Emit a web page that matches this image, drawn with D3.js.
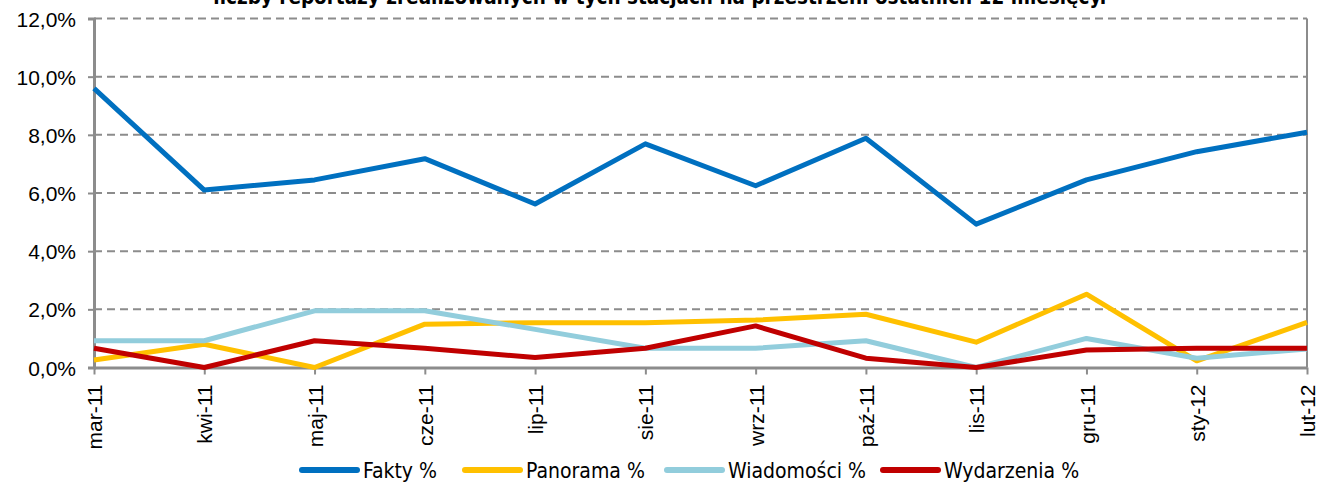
<!DOCTYPE html>
<html>
<head>
<meta charset="utf-8">
<script src="https://cdn.jsdelivr.net/npm/d3@7"></script>
<style>
  body { margin: 0; background: #fff; }
  svg { display: block; font-family: "DejaVu Sans Condensed", "DejaVu Sans", sans-serif; }
</style>
</head>
<body>
<svg id="chart" width="1321" height="483"></svg>
<script>
// data (percent)
const months = ["mar-11", "kwi-11", "maj-11", "cze-11", "lip-11", "sie-11", "wrz-11", "paź-11", "lis-11", "gru-11", "sty-12", "lut-12"];
const fakty = [9.6, 6.1, 6.45, 7.18, 5.62, 7.69, 6.25, 7.88, 4.93, 6.45, 7.42, 8.09];
const panorama = [0.26, 0.8, 0.0, 1.49, 1.54, 1.54, 1.63, 1.83, 0.87, 2.52, 0.23, 1.55];
const wiadomosci = [0.92, 0.92, 1.95, 1.95, 1.31, 0.66, 0.66, 0.92, 0.0, 1.0, 0.32, 0.64];
const wydarzenia = [0.66, 0.0, 0.92, 0.66, 0.34, 0.66, 1.43, 0.32, 0.0, 0.6, 0.66, 0.66];
const yTicks = [0, 2, 4, 6, 8, 10, 12];

const series = [
  { name: "Fakty %", values: fakty, color: "#0070C0" },
  { name: "Panorama %", values: panorama, color: "#FFC000" },
  { name: "Wiadomości %", values: wiadomosci, color: "#92CDDC" },
  { name: "Wydarzenia %", values: wydarzenia, color: "#C00000" }
];

const svg = d3.select("#chart");
const plotLeft = 94, plotRight = 1307, plotTop = 18.5, plotBottom = 367.5;

const x = d3.scalePoint().domain(months).range([plotLeft, plotRight]).padding(0);
const y = d3.scaleLinear().domain([0, 12]).range([plotBottom, plotTop]);

// title, cut off at the top like in the original
svg.append("text")
  .attr("x", 660).attr("y", 4)
  .attr("text-anchor", "middle")
  .style("font-size", "20.5px").style("font-weight", "bold")
  .text("liczby reportaży zrealizowanych w tych stacjach na przestrzeni ostatnich 12 miesięcy.");

// gridlines
svg.append("g").selectAll("line")
  .data(yTicks.filter(d => d > 0))
  .enter().append("line")
  .attr("x1", plotLeft).attr("x2", plotRight)
  .attr("y1", d => y(d)).attr("y2", d => y(d))
  .attr("stroke", "#8c8c8c").attr("stroke-width", 2)
  .attr("stroke-dasharray", "8,5");

// right border of plot area
svg.append("line")
  .attr("x1", plotRight).attr("x2", plotRight).attr("y1", plotTop).attr("y2", plotBottom)
  .attr("stroke", "#8c8c8c").attr("stroke-width", 2);

// y axis
const yAxis = svg.append("g")
  .attr("transform", `translate(${plotLeft},0)`)
  .call(d3.axisLeft(y).tickValues(yTicks).tickSize(6).tickPadding(12)
    .tickFormat(d => d.toFixed(1).replace(".", ",") + "%"));
yAxis.select(".domain").attr("stroke", "#8c8c8c").attr("stroke-width", 3);
yAxis.selectAll(".tick line").attr("stroke", "#8c8c8c").attr("stroke-width", 2);
yAxis.selectAll("text").style("font-size", "21px").attr("fill", "#000").attr("dy", "0.36em");

// x axis
const xAxis = svg.append("g")
  .attr("transform", `translate(0,${plotBottom})`)
  .call(d3.axisBottom(x).tickSize(7).tickSizeOuter(0));
xAxis.select(".domain").attr("stroke", "#8c8c8c").attr("stroke-width", 3);
xAxis.selectAll(".tick line").attr("stroke", "#8c8c8c").attr("stroke-width", 2);
xAxis.selectAll("text")
  .style("font-size", "21px").attr("fill", "#000")
  .attr("transform", "rotate(-90)")
  .attr("text-anchor", "end")
  .attr("x", -17).attr("y", 0).attr("dy", "0.36em");

// lines
const line = d3.line()
  .x((d, i) => x(months[i]))
  .y(d => y(d));

svg.append("g").selectAll("path")
  .data(series)
  .enter().append("path")
  .attr("d", d => line(d.values))
  .attr("fill", "none")
  .attr("stroke", d => d.color)
  .attr("stroke-width", 5)
  .attr("stroke-linejoin", "round");

// legend
const legendX = [302, 465, 667, 883];
const legend = svg.append("g").selectAll("g")
  .data(series)
  .enter().append("g")
  .attr("transform", (d, i) => `translate(${legendX[i]},470)`);
legend.append("line")
  .attr("x1", 0).attr("x2", 55)
  .attr("stroke", d => d.color).attr("stroke-width", 6)
  .attr("stroke-linecap", "round");
legend.append("text")
  .attr("x", 61).attr("dy", "0.36em")
  .style("font-size", "21px")
  .text(d => d.name);
</script>
</body>
</html>
